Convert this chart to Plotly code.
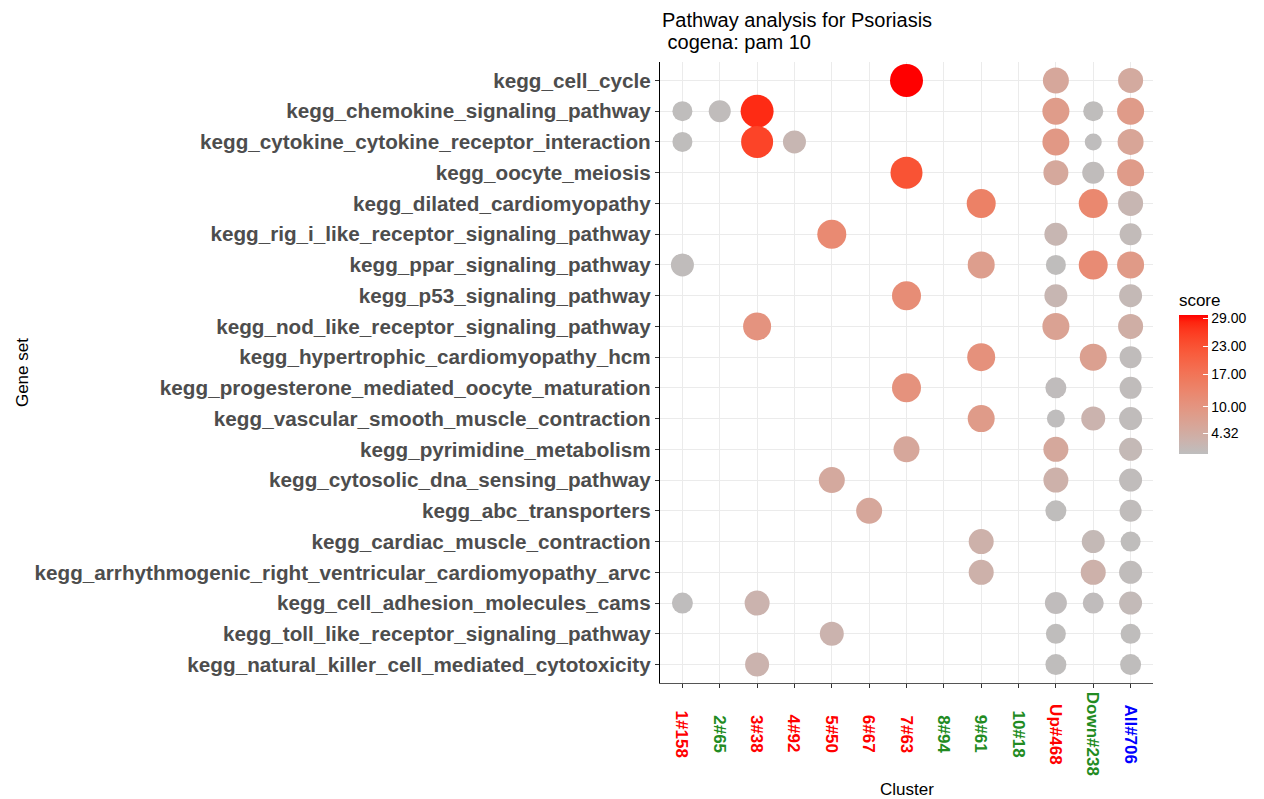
import plotly.graph_objects as go
import numpy as np

gene_sets = [
    "kegg_cell_cycle",
    "kegg_chemokine_signaling_pathway",
    "kegg_cytokine_cytokine_receptor_interaction",
    "kegg_oocyte_meiosis",
    "kegg_dilated_cardiomyopathy",
    "kegg_rig_i_like_receptor_signaling_pathway",
    "kegg_ppar_signaling_pathway",
    "kegg_p53_signaling_pathway",
    "kegg_nod_like_receptor_signaling_pathway",
    "kegg_hypertrophic_cardiomyopathy_hcm",
    "kegg_progesterone_mediated_oocyte_maturation",
    "kegg_vascular_smooth_muscle_contraction",
    "kegg_pyrimidine_metabolism",
    "kegg_cytosolic_dna_sensing_pathway",
    "kegg_abc_transporters",
    "kegg_cardiac_muscle_contraction",
    "kegg_arrhythmogenic_right_ventricular_cardiomyopathy_arvc",
    "kegg_cell_adhesion_molecules_cams",
    "kegg_toll_like_receptor_signaling_pathway",
    "kegg_natural_killer_cell_mediated_cytotoxicity",
]

clusters = ["1#158", "2#65", "3#38", "4#92", "5#50", "6#67", "7#63",
            "8#94", "9#61", "10#18", "Up#468", "Down#238", "All#706"]
cluster_colors = ["#FF0000", "#228B22", "#FF0000", "#FF0000", "#FF0000", "#FF0000",
                  "#FF0000", "#228B22", "#228B22", "#228B22", "#FF0000", "#228B22", "#0000FF"]

# point data (gene set index, cluster index, score, dot size)
pt_gene = [0, 0, 0,
           1, 1, 1, 1, 1, 1,
           2, 2, 2, 2, 2, 2,
           3, 3, 3, 3,
           4, 4, 4,
           5, 5, 5,
           6, 6, 6, 6, 6,
           7, 7, 7,
           8, 8, 8,
           9, 9, 9,
           10, 10, 10,
           11, 11, 11, 11,
           12, 12, 12,
           13, 13, 13,
           14, 14, 14,
           15, 15, 15,
           16, 16, 16,
           17, 17, 17, 17, 17,
           18, 18, 18,
           19, 19, 19]
pt_cluster = [6, 10, 12,
              0, 1, 2, 10, 11, 12,
              0, 2, 3, 10, 11, 12,
              6, 10, 11, 12,
              8, 11, 12,
              4, 10, 12,
              0, 8, 10, 11, 12,
              6, 10, 12,
              2, 10, 12,
              8, 11, 12,
              6, 10, 12,
              8, 10, 11, 12,
              6, 10, 12,
              4, 10, 12,
              5, 10, 12,
              8, 11, 12,
              8, 11, 12,
              0, 2, 10, 11, 12,
              4, 10, 12,
              2, 10, 12]
pt_score = [29.8, 5.7, 5.0,
            0.3, 0.5, 27.7, 8.5, 0.3, 8.6,
            0.3, 25.0, 2.0, 9.3, 0.2, 6.3,
            23.0, 5.4, 0.5, 8.6,
            14.5, 13.0, 2.0,
            12.5, 2.0, 0.8,
            0.5, 8.0, 0.3, 12.3, 9.0,
            12.0, 2.0, 1.3,
            10.5, 7.0, 4.0,
            11.0, 7.5, 0.5,
            10.7, 0.4, 0.5,
            8.6, 0.2, 2.7, 0.5,
            5.7, 5.5, 1.3,
            5.2, 3.3, 0.5,
            5.7, 0.3, 0.5,
            3.3, 1.3, 0.3,
            3.3, 3.3, 0.5,
            0.2, 2.7, 0.4, 0.4, 1.0,
            2.7, 0.3, 0.3,
            2.7, 0.3, 0.3]
pt_size = [33, 26, 25,
           20, 22, 33, 27, 20, 27,
           20, 32, 23, 27, 17, 26,
           32, 25, 22, 27,
           29, 29, 25,
           29, 23, 22,
           23, 27, 20, 29, 27,
           29, 23, 23,
           28, 27, 25,
           28, 27, 22,
           29, 21, 22,
           27, 18, 24, 23,
           26, 25, 23,
           26, 25, 23,
           26, 21, 22,
           25, 23, 20,
           25, 25, 23,
           21, 25, 22, 21, 23,
           24, 20, 20,
           24, 21, 21]

score_ticks = [4.32, 10, 17, 23, 29]
score_tick_text = ["4.32", "10.00", "17.00", "23.00", "29.00"]
score_min, score_max = 0.0, 29.8


# ggplot-like Lab interpolation from grey to red
def srgb_to_lab(hexc):
    rgb = np.array([int(hexc[i:i + 2], 16) / 255 for i in (1, 3, 5)])
    lin = np.where(rgb <= 0.04045, rgb / 12.92, ((rgb + 0.055) / 1.055) ** 2.4)
    M = np.array([[0.4124, 0.3576, 0.1805], [0.2126, 0.7152, 0.0722], [0.0193, 0.1192, 0.9505]])
    xyz = M @ lin / np.array([0.95047, 1.0, 1.08883])
    f = np.where(xyz > 0.008856, np.cbrt(xyz), 7.787 * xyz + 16 / 116)
    return np.array([116 * f[1] - 16, 500 * (f[0] - f[1]), 200 * (f[1] - f[2])])


def lab_to_hex(lab):
    L, a, b = lab
    fy = (L + 16) / 116
    fx = fy + a / 500
    fz = fy - b / 200
    f = np.array([fx, fy, fz])
    xyz = np.where(f ** 3 > 0.008856, f ** 3, (f - 16 / 116) / 7.787) * np.array([0.95047, 1.0, 1.08883])
    Minv = np.array([[3.2406, -1.5372, -0.4986], [-0.9689, 1.8758, 0.0415], [0.0557, -0.2040, 1.0570]])
    lin = np.clip(Minv @ xyz, 0, 1)
    rgb = np.where(lin <= 0.0031308, 12.92 * lin, 1.055 * lin ** (1 / 2.4) - 0.055)
    rgb = np.clip(np.round(rgb * 255), 0, 255).astype(int)
    return "#%02X%02X%02X" % tuple(rgb)


lo, hi = srgb_to_lab("#BEBEBE"), srgb_to_lab("#FF0000")
colorscale = [[t, lab_to_hex(lo + (hi - lo) * t)] for t in np.linspace(0, 1, 21)]

FONT = "Liberation Sans, Arial, sans-serif"

# plot panel geometry (page offset of 8px body margin compensated)
PW, PH = 495, 621

fig = go.Figure()
fig.add_trace(go.Scatter(
    x=pt_cluster, y=pt_gene, mode="markers",
    marker=dict(
        size=pt_size, sizemode="diameter",
        color=pt_score, colorscale=colorscale, cmin=score_min, cmax=score_max,
        line=dict(width=0), opacity=1,
        colorbar=dict(
            title=dict(text="score", side="top", font=dict(size=17, color="#000000", family=FONT)),
            x=(1181 - 660) / PW, xanchor="left", xpad=0, xref="paper",
            y=(683 - 372) / PH, yanchor="middle", ypad=0,
            thickness=29, thicknessmode="pixels", len=163, lenmode="pixels",
            tickvals=score_ticks, ticktext=score_tick_text,
            ticks="inside", tickcolor="white", ticklen=5, tickwidth=1,
            tickfont=dict(size=14, color="#000000", family=FONT),
            outlinewidth=0,
        ),
    ),
    text=[f"{gene_sets[g]}<br>{clusters[c]}<br>score: {s}" for g, c, s in zip(pt_gene, pt_cluster, pt_score)],
    hoverinfo="text",
    showlegend=False,
))

annotations = []
for i, (lab, col) in enumerate(zip(clusters, cluster_colors)):
    annotations.append(dict(
        x=i, xref="x", y=(683 - 734) / PH, yref="paper",
        text=f"<b>{lab}</b>", textangle=90, showarrow=False,
        xanchor="center", yanchor="middle",
        font=dict(size=17, color=col, family=FONT),
    ))
annotations.append(dict(x=0.5, xref="paper", y=(683 - 789) / PH, yref="paper",
                        text="Cluster", showarrow=False, xanchor="center", yanchor="middle",
                        font=dict(size=17, color="#000000", family=FONT)))
annotations.append(dict(x=(20 - 660) / PW, xref="paper", y=0.5, yref="paper",
                        text="Gene set", textangle=-90, showarrow=False,
                        xanchor="center", yanchor="middle",
                        font=dict(size=17, color="#000000", family=FONT)))
annotations.append(dict(x=0.0, xref="paper", y=(683 - 20) / PH, yref="paper",
                        text="Pathway analysis for Psoriasis", showarrow=False,
                        xanchor="left", yanchor="middle",
                        font=dict(size=20, color="#000000", family=FONT)))
annotations.append(dict(x=0.0, xref="paper", y=(683 - 42) / PH, yref="paper",
                        text="\u00a0cogena: pam 10", showarrow=False,
                        xanchor="left", yanchor="middle",
                        font=dict(size=20, color="#000000", family=FONT)))

fig.update_layout(
    width=1256, height=791,
    margin=dict(l=652, r=109, t=54, b=116, pad=0),
    paper_bgcolor="white", plot_bgcolor="white",
    annotations=annotations,
    xaxis=dict(
        range=[-0.6, len(clusters) - 0.4], tickvals=list(range(len(clusters))),
        showticklabels=False, showgrid=True, gridcolor="#EBEBEB", gridwidth=1.1,
        zeroline=False, showline=True, linecolor="#555555", linewidth=1.2,
        ticks="outside", ticklen=4, tickcolor="#333333", tickwidth=1.1,
    ),
    yaxis=dict(
        range=[len(gene_sets) - 0.4, -0.6], tickvals=list(range(len(gene_sets))),
        ticktext=[f"<b>{g}</b>" for g in gene_sets],
        tickfont=dict(size=20.7, color="#4D4D4D", family=FONT),
        showgrid=True, gridcolor="#EBEBEB", gridwidth=1.1,
        zeroline=False, showline=True, linecolor="#000000", linewidth=1.2,
        ticks="outside", ticklen=4, tickcolor="#333333", tickwidth=1.1,
        ticklabelstandoff=0,
    ),
    hovermode="closest",
)

fig.write_html("out.html")
